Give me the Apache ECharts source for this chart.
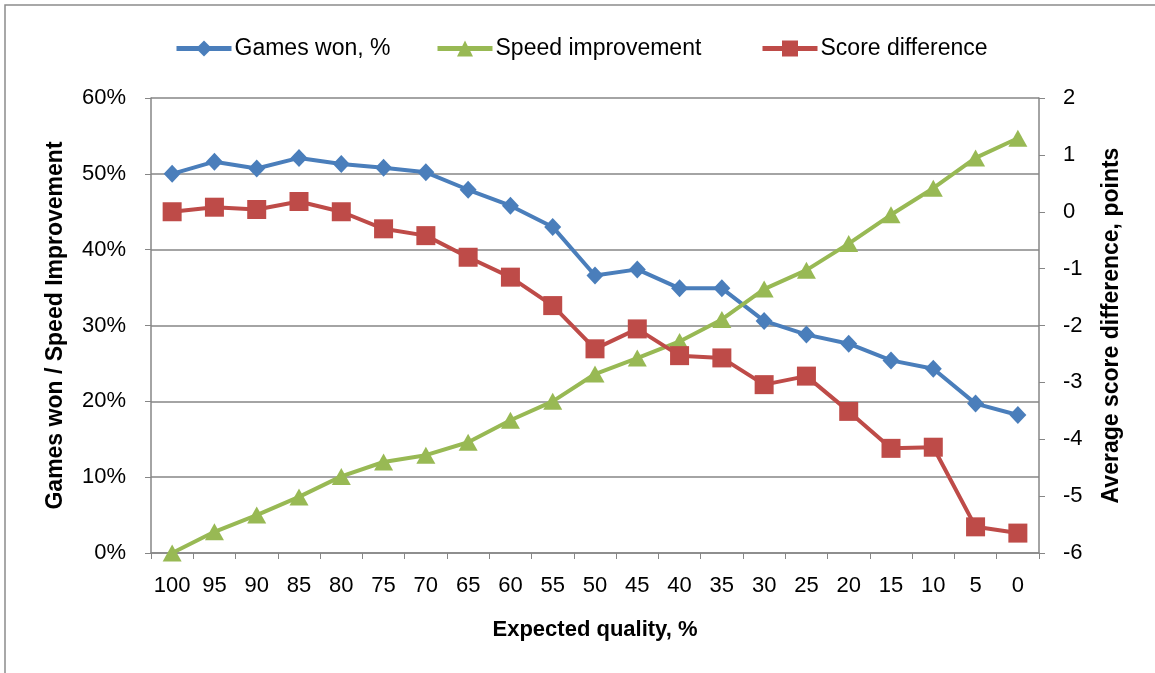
<!DOCTYPE html>
<html><head><meta charset="utf-8">
<script src="https://cdn.jsdelivr.net/npm/echarts@6/dist/echarts.min.js"></script>
<style>html,body{margin:0;padding:0;background:#fff}#c{width:1155px;height:673px}</style>
</head><body><div id="c"></div>
<script>
const categories = ['100','95','90','85','80','75','70','65','60','55','50','45','40','35','30','25','20','15','10','5','0'];
const gamesWon = [50.0,51.6,50.7,52.1,51.3,50.8,50.2,47.9,45.8,43.0,36.6,37.4,34.9,34.9,30.6,28.8,27.6,25.4,24.3,19.7,18.2];
const speedImprovement = [0,2.8,5.0,7.4,10.1,12.0,12.9,14.6,17.5,20.0,23.6,25.7,27.9,30.8,34.8,37.3,40.8,44.6,48.1,52.1,54.7];
const scoreDifference = [0.0,0.08,0.04,0.18,0.0,-0.30,-0.42,-0.80,-1.15,-1.65,-2.41,-2.06,-2.53,-2.57,-3.04,-2.89,-3.51,-4.16,-4.14,-5.54,-5.65];
const seriesNames = ['Games won, %','Speed improvement','Score difference'];
const leftTicks = [0,10,20,30,40,50,60];
const rightTicks = [-6,-5,-4,-3,-2,-1,0,1,2];

const FONT = 'Liberation Sans';
const AX = '#868686';
const legendLefts = [169, 430, 755];
const legendBase = {
  top:32,itemWidth:55,itemHeight:20,
  lineStyle:{width:5},
  textStyle:{fontFamily:FONT,fontSize:23,color:'#000',padding:[0,0,0,-2]}
};
const chart = echarts.init(document.getElementById('c'), null, {renderer:'canvas'});
chart.setOption({
  animation:false,
  textStyle:{fontFamily:FONT},
  graphic:[{type:'rect',shape:{x:5,y:5,width:1200,height:720},style:{fill:'none',stroke:'#8c8c8c',lineWidth:1.5},silent:true}],
  legend:seriesNames.map((n,i)=>Object.assign({},legendBase,{left:legendLefts[i],data:[n]})),
  grid:{left:151,right:116,top:98,bottom:120,containLabel:false},
  xAxis:{
    type:'category',data:categories,boundaryGap:true,
    name:'Expected quality, %',nameLocation:'middle',nameGap:66,
    nameTextStyle:{fontFamily:FONT,fontSize:22,fontWeight:'bold',color:'#000'},
    axisLine:{lineStyle:{color:AX,width:1.5}},
    axisTick:{show:true,alignWithLabel:false,length:6,lineStyle:{color:AX,width:1}},
    axisLabel:{fontFamily:FONT,fontSize:22,color:'#000',margin:22,interval:0}
  },
  yAxis:[{
    type:'value',min:0,max:60,interval:10,position:'left',
    name:'Games won / Speed Improvement',nameLocation:'middle',nameGap:84,nameRotate:90,
    nameTextStyle:{fontFamily:FONT,fontSize:23,fontWeight:'bold',color:'#000'},
    axisLine:{show:true,lineStyle:{color:AX,width:1.5}},
    axisTick:{show:true,inside:false,length:6,lineStyle:{color:AX,width:1}},
    splitLine:{show:true,lineStyle:{color:AX,width:1.5}},
    axisLabel:{fontFamily:FONT,fontSize:22,color:'#000',margin:25,formatter:v=>leftTicks.includes(v)?v+'%':''}
  },{
    type:'value',min:-6,max:2,interval:1,position:'right',
    name:'Average score difference, points',nameLocation:'middle',nameGap:61,nameRotate:90,
    nameTextStyle:{fontFamily:FONT,fontSize:23,fontWeight:'bold',color:'#000'},
    axisLine:{show:true,lineStyle:{color:AX,width:1.5}},
    axisTick:{show:true,inside:false,length:6,lineStyle:{color:AX,width:1}},
    splitLine:{show:false},
    axisLabel:{fontFamily:FONT,fontSize:22,color:'#000',margin:24,formatter:v=>rightTicks.includes(v)?String(v):''}
  }],
  series:[{
    name:seriesNames[0],type:'line',yAxisIndex:0,data:gamesWon,
    symbol:'diamond',symbolSize:[17,18],
    lineStyle:{color:'#4A7EBB',width:4},itemStyle:{color:'#4A7EBB'}
  },{
    name:seriesNames[1],type:'line',yAxisIndex:0,data:speedImprovement,
    symbol:'triangle',symbolSize:[19,17],
    lineStyle:{color:'#98B954',width:4},itemStyle:{color:'#98B954'}
  },{
    name:seriesNames[2],type:'line',yAxisIndex:1,data:scoreDifference,
    symbol:'rect',symbolSize:19,
    lineStyle:{color:'#BE4B48',width:4},itemStyle:{color:'#BE4B48'}
  }]
});
</script></body></html>
